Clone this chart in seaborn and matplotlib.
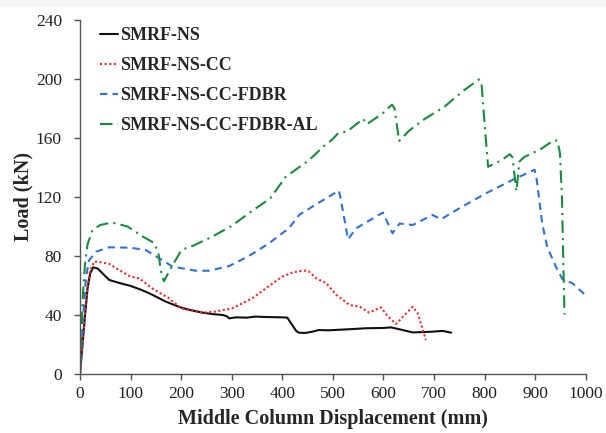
import matplotlib
matplotlib.use("Agg")
import matplotlib.pyplot as plt
import seaborn as sns
import pandas as pd

# Load–displacement curves (displacement in mm, load in kN)
ns_x = [0, 5, 10, 15, 20, 26, 35, 45, 58, 80, 100, 120, 137, 155, 170, 185, 200, 220,
        242, 262, 282, 290, 295, 308, 330, 347, 370, 400, 410, 413, 420, 428, 433, 445,
        460, 472, 490, 520, 566, 600, 615, 632, 645, 658, 680, 697, 717, 734]
ns_y = [0, 20, 40, 58, 68, 72.3, 71.5, 68, 63.7, 61.5, 59.7, 57.2, 54.7, 51.6, 49, 47,
        45, 43.2, 41.6, 40.6, 40, 39.2, 37.7, 38.4, 38.2, 38.9, 38.6, 38.4, 38.2, 36.6,
        33, 29, 28, 27.8, 28.7, 29.8, 29.6, 30.1, 31, 31.2, 31.6, 30.3, 29.2, 28.2,
        28.4, 28.7, 29.2, 28]

cc_x = [0, 5, 10, 15, 20, 28, 40, 58, 80, 100, 117, 143, 176, 200, 242, 268, 301, 341,
        374, 400, 420, 439, 447, 453, 467, 487, 507, 533, 553, 572, 595, 609, 625, 645,
        658, 668, 676, 684]
cc_y = [0, 20, 42, 60, 70, 76.2, 75.8, 74.6, 70, 66, 64.9, 58, 51.3, 44.5, 41.6, 42.3,
        44.5, 51.3, 59.7, 66, 68.8, 70, 70, 69.4, 64.9, 61.5, 53.6, 46.8, 45.6, 41.6, 45.2,
        38.9, 33.9, 41, 45.6, 41, 32, 23]

fdbr_x = [0, 4, 8, 12, 18, 32, 58, 100, 130, 157, 183, 229, 255, 295, 334, 374, 413,
          434, 474, 512, 516, 530, 546, 599, 605, 618, 632, 658, 697, 714, 750, 803, 855,
          899, 903, 914, 924, 941, 954, 974, 997]
fdbr_y = [0, 25, 48, 66, 77, 83, 85.9, 85.6, 84, 78.4, 72.8, 70, 70, 73.2, 80, 88.6,
          98.8, 108, 116.5, 124.3, 118, 91.3, 98.8, 109.4, 105, 95.4, 102, 101, 107.8,
          104.9, 112.3, 122.5, 131.5, 138.5, 132, 102, 86, 72.8, 64.2, 61.5, 54.2]

al_x = [0, 3, 6, 10, 15, 25, 40, 63, 94, 124, 147, 155, 160, 166, 178, 201, 224, 262,
        300, 338, 376, 407, 453, 484, 499, 510, 529, 560, 567, 598, 617, 622, 631, 651,
        682, 720, 758, 789, 794, 800, 807, 834, 850, 855, 863, 869, 878, 911, 937, 944,
        949, 953, 958]
al_y = [0, 30, 55, 75, 88, 97.7, 101, 102.7, 100, 93.2, 88.7, 82, 70, 62.8, 70.7, 84.2,
        87, 93.2, 100.4, 110, 119, 133.7, 145, 155, 159, 163, 164.6, 173, 169.3, 176.5,
        182.6, 180, 158, 165, 173, 181, 192, 199.7, 196.8, 170, 140.5, 145, 149, 147,
        123.9, 144, 147, 152.4, 158.5, 158.2, 150, 120, 40.3]

series_names = ["SMRF-NS", "SMRF-NS-CC", "SMRF-NS-CC-FDBR", "SMRF-NS-CC-FDBR-AL"]
x_ticks = list(range(0, 1001, 100))
y_ticks = list(range(0, 241, 40))

sns.set_theme(style="ticks")
plt.rcParams["font.family"] = ["Liberation Serif", "DejaVu Serif"]

fig = plt.figure(figsize=(6.06, 4.33), dpi=100)
# faint band along the top edge
fig.patches.append(plt.Rectangle((0, 0.986), 1, 0.014, transform=fig.transFigure,
                                 color="#f5f5f5", zorder=0))
ax = fig.add_axes([0.132, 0.1363, 0.8345, 0.8176])

styles = [
    dict(color="#111111", linestyle="-", linewidth=1.5),
    dict(color="#F0282A", linestyle=(0, (1, 1.2)), linewidth=1.5),
    dict(color="#2E72D8", linestyle=(0, (3.5, 2.5)), linewidth=1.5),
    dict(color="#1C8A3C", linestyle=(0, (6, 2.5, 1, 2.5)), linewidth=1.5),
]
data = [(ns_x, ns_y), (cc_x, cc_y), (fdbr_x, fdbr_y), (al_x, al_y)]

for name, (xs, ys), st in zip(series_names, data, styles):
    df = pd.DataFrame({"disp": xs, "load": ys})
    sns.lineplot(data=df, x="disp", y="load", ax=ax, sort=False,
                 estimator=None, label=name, **st)

ax.set_xlim(0, 1000)
ax.set_ylim(0, 240)
ax.set_xticks(x_ticks)
ax.set_yticks(y_ticks)
ax.tick_params(axis="both", labelsize=12.5, direction="out", length=4,
               width=1, color="#555555")
ax.tick_params(axis="x", pad=5)
ax.tick_params(axis="y", pad=9)
for lab in ax.get_xticklabels() + ax.get_yticklabels():
    lab.set_color("#222222")
sns.despine(ax=ax)
for side in ("left", "bottom"):
    ax.spines[side].set_color("#555555")
    ax.spines[side].set_linewidth(1)

ax.set_xlabel("Middle Column Displacement (mm)", fontsize=14.5,
              fontweight="bold", labelpad=5)
ax.set_ylabel("Load (kN)", fontsize=14.5, fontweight="bold", labelpad=2)

leg = ax.legend(loc="upper left", bbox_to_anchor=(0.026, 1.0), frameon=False,
                borderaxespad=0, handlelength=1.0, handletextpad=0.08,
                labelspacing=0.72, prop={"weight": "bold", "size": 13})

fig.savefig("out.png", dpi=100)
